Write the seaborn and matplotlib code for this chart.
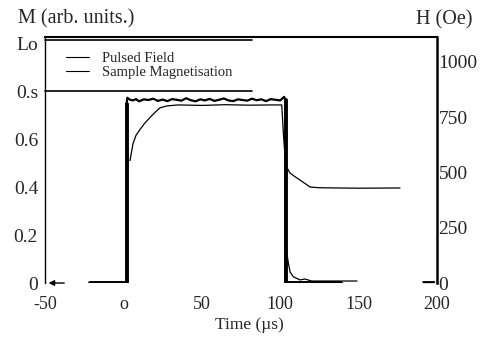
import matplotlib
matplotlib.use("Agg")
import matplotlib.pyplot as plt
from matplotlib.lines import Line2D
import seaborn as sns
import pandas as pd

# Pulsed field trace (right axis, Oe)
field_t = [-21, 2.0, 2.0, 2.5, 4, 6, 8, 10, 13, 16, 19, 22, 25, 28, 31, 34, 37, 40,
           43, 46, 49, 52, 55, 58, 61, 64, 67, 70, 73, 76, 79, 82, 85, 88, 91, 94,
           97, 100, 102.5, 103.5, 103.5, 139]
field_h = [0, 0, 810, 838, 830, 826, 832, 822, 831, 828, 834, 824, 830, 823, 832,
           829, 825, 836, 827, 822, 831, 826, 833, 824, 829, 835, 826, 823, 831,
           828, 825, 834, 827, 831, 823, 832, 829, 826, 842, 826, 0, 0]

# Measured field decay after switch-off (thin trace)
tail_t = [104.1, 105.2, 106.3, 108.4, 112.6, 115.8, 120, 149]
tail_h = [142, 90, 50, 28, 14, 18, 9, 9]

# Sample magnetisation (left axis, arb. units)
mag_t = [4.2, 6.1, 8, 10.6, 13.5, 17.0, 20, 23.3, 27.8, 35, 50, 65, 80, 95, 101.0,
         102.0, 103.1, 104.1, 106.3, 109, 112.6, 116, 119.0, 125, 136.0, 150, 176.4]
mag_m = [0.51, 0.58, 0.615, 0.64, 0.665, 0.69, 0.71, 0.73, 0.738, 0.742, 0.74,
         0.743, 0.741, 0.742, 0.742, 0.625, 0.525, 0.483, 0.458, 0.445, 0.429,
         0.414, 0.40, 0.397, 0.396, 0.395, 0.396]

x_ticks = [-50, 0, 50, 100, 150, 200]
x_labels = ["-50", "o", "50", "100", "150", "200"]
m_ticks = [0, 0.2, 0.4, 0.6, 0.8, 1.0]
m_labels = ["0", "0.2", "0.4", "0.6", "0.s", "Lo"]
h_ticks = [0, 250, 500, 750, 1000]
h_labels = ["0", "250", "500", "750", "1000"]
legend_labels = ["Pulsed Field", "Sample Magnetisation"]

sns.set_style("white")
plt.rcParams["font.family"] = ["Liberation Serif", "DejaVu Serif"]

fig = plt.figure(figsize=(4.92, 3.38), dpi=100)
ax = fig.add_axes([0.0915, 0.1627, 0.7967, 0.7278])
ax2 = ax.twinx()

field = pd.DataFrame({"t": field_t, "H": field_h})
tail = pd.DataFrame({"t": tail_t, "H": tail_h})
mag = pd.DataFrame({"t": mag_t, "M": mag_m})

sns.lineplot(data=mag, x="t", y="M", ax=ax, estimator=None, sort=False,
             color="black", lw=0.9)
# noisy plateau drawn thin, switching edges and baseline drawn heavy
sns.lineplot(data=field, x="t", y="H", ax=ax2, estimator=None, sort=False,
             color="black", lw=1.6)
sns.lineplot(data=field.iloc[:3], x="t", y="H", ax=ax2, estimator=None,
             sort=False, color="black", lw=2.8)
sns.lineplot(data=field.iloc[-3:], x="t", y="H", ax=ax2, estimator=None,
             sort=False, color="black", lw=2.8)
sns.lineplot(data=tail, x="t", y="H", ax=ax2, estimator=None, sort=False,
             color="black", lw=0.9)

ax.set_xlim(-50, 200)
ax.set_ylim(0, 1.025)
ax2.set_ylim(0, 1113)

ax.set_xticks(x_ticks, x_labels, fontsize=13)
ax.set_yticks(m_ticks, m_labels, fontsize=14)
ax2.set_yticks(h_ticks, h_labels, fontsize=14)
ax.tick_params(axis="x", length=0, pad=9)
ax.tick_params(axis="y", length=0, pad=5)
ax2.tick_params(axis="y", length=0, pad=1)
ax.set_xlabel("Time (\u00b5s)", fontsize=12.5)
ax.xaxis.set_label_coords(0.522, -0.14)
ax.set_ylabel("")
ax2.set_ylabel("")

for a in (ax, ax2):
    for s in a.spines.values():
        s.set_visible(False)
    a.grid(False)
ax.spines["left"].set_visible(True)
ax.spines["left"].set_linewidth(1.0)
ax.spines["top"].set_visible(True)
ax.spines["top"].set_linewidth(1.5)
ax2.spines["right"].set_visible(True)
ax2.spines["right"].set_linewidth(1.8)
for s in ("left", "top"):
    ax.spines[s].set_color("black")
ax2.spines["right"].set_color("black")

# axis markers at the zero baselines
ax.annotate("", xy=(-49.5, 0.0), xytext=(-36, 0.0),
            arrowprops=dict(arrowstyle="-|>", lw=1.0, color="black",
                            mutation_scale=8), annotation_clip=False)
ax2.annotate("", xy=(200, 4), xytext=(189.5, 4),
             arrowprops=dict(arrowstyle="-", lw=1.5, color="black"),
             annotation_clip=False)

# legend with ruled top and bottom
handles = [Line2D([], [], color="black", lw=0.8),
           Line2D([], [], color="black", lw=0.8)]
leg = ax2.legend(handles, legend_labels, loc="upper left",
                 bbox_to_anchor=(0.038, 0.965), frameon=False, fontsize=10.5,
                 handlelength=1.6, handletextpad=0.9, labelspacing=0.1,
                 borderaxespad=0)
ax2.plot([0, 0.528], [0.988, 0.988], transform=ax2.transAxes, color="black",
         lw=1.2, clip_on=False)
ax2.plot([0, 0.528], [0.780, 0.780], transform=ax2.transAxes, color="black",
         lw=1.2, clip_on=False)

fig.text(0.036, 0.945, "M (arb. units.)", fontsize=14.5, va="center", ha="left")
fig.text(0.846, 0.94, "H (Oe)", fontsize=14.5, va="center", ha="left")

fig.savefig("out.png", dpi=100, facecolor="white")
